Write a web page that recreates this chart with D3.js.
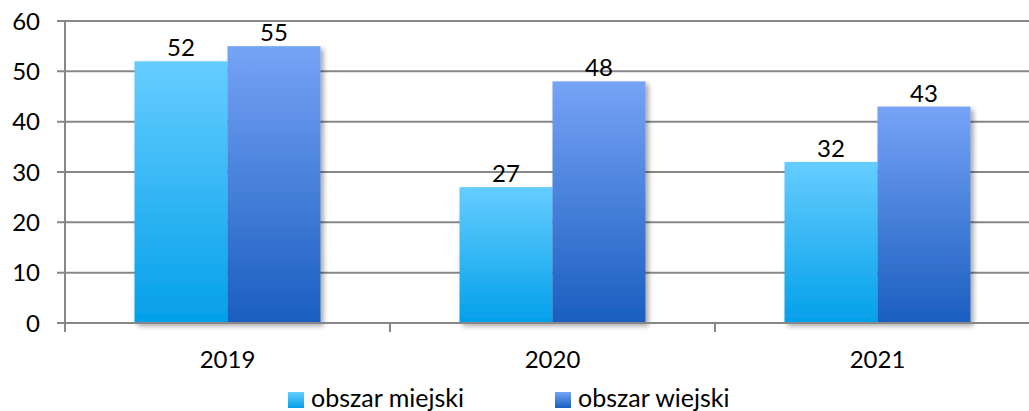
<!doctype html>
<html>
<head>
<meta charset="utf-8"/>
<title>obszar miejski / wiejski</title>
<script src="https://d3js.org/d3.v7.min.js"></script>
<style>
body{margin:0;background:#fff;}
text{font-family:Lato,"Open Sans",sans-serif;fill:#000;}
</style>
</head>
<body>
<script>
// dane
var lata = ["2019", "2020", "2021"];
var serie = ["obszar miejski", "obszar wiejski"];
var miejski = [52, 27, 32];
var wiejski = [55, 48, 43];
var ticksY = [0, 10, 20, 30, 40, 50, 60];

var W = 1029, H = 411;
var svg = d3.select("body").append("svg")
  .attr("width", W).attr("height", H);

var defs = svg.append("defs");
var g1 = defs.append("linearGradient").attr("id", "gm").attr("x1", 0).attr("y1", 0).attr("x2", 0).attr("y2", 1);
g1.append("stop").attr("offset", "0%").attr("stop-color", "#66cdff");
g1.append("stop").attr("offset", "100%").attr("stop-color", "#03a0ea");
var g2 = defs.append("linearGradient").attr("id", "gw").attr("x1", 0).attr("y1", 0).attr("x2", 0).attr("y2", 1);
g2.append("stop").attr("offset", "0%").attr("stop-color", "#76a3f6");
g2.append("stop").attr("offset", "100%").attr("stop-color", "#1a5ebf");
var f = defs.append("filter").attr("id", "cien").attr("x", "-10%").attr("y", "-10%").attr("width", "130%").attr("height", "130%");
f.append("feDropShadow").attr("dx", 3).attr("dy", 3).attr("stdDeviation", 2.5)
  .attr("flood-color", "#000").attr("flood-opacity", 0.35);

var kolory = ["url(#gm)", "url(#gw)"];

var x0 = d3.scaleBand().domain(lata).range([65, 1040]).padding(0);
var x1 = d3.scaleBand().domain(serie).range([0, 186]);
var y = d3.scaleLinear().domain([0, 60]).range([323, 21]);

// siatka
svg.append("g").selectAll("line").data(ticksY).enter().append("line")
  .attr("x1", 57).attr("x2", 1040)
  .attr("y1", function(d){return y(d)}).attr("y2", function(d){return y(d)})
  .attr("stroke", "#878787").attr("stroke-width", 2);

svg.append("g").selectAll("text").data(ticksY).enter().append("text")
  .attr("x", 40).attr("y", function(d){return y(d)}).attr("dy", "0.36em")
  .attr("text-anchor", "end").style("font-size", "24px")
  .text(function(d){return d});

// slupki
var dane = [];
lata.forEach(function(r, i){
  dane.push({rok: r, s: 0, v: miejski[i]});
  dane.push({rok: r, s: 1, v: wiejski[i]});
});
var off = (x0.bandwidth() - 186) / 2;

svg.append("g").attr("filter", "url(#cien)").selectAll("rect").data(dane).enter().append("rect")
  .attr("x", function(d){return x0(d.rok) + off + x1(serie[d.s])})
  .attr("y", function(d){return y(d.v)})
  .attr("width", x1.bandwidth())
  .attr("height", function(d){return y(0) - y(d.v)})
  .attr("fill", function(d){return kolory[d.s]});

svg.append("g").selectAll("text").data(dane).enter().append("text")
  .attr("x", function(d){return x0(d.rok) + off + x1(serie[d.s]) + x1.bandwidth() / 2})
  .attr("y", function(d){return y(d.v) - 5})
  .attr("text-anchor", "middle").style("font-size", "24px")
  .text(function(d){return d.v});

// osie
svg.append("line").attr("x1", 65).attr("x2", 65).attr("y1", 21).attr("y2", 332)
  .attr("stroke", "#878787").attr("stroke-width", 2);
svg.append("line").attr("x1", 57).attr("x2", 1040).attr("y1", y(0)).attr("y2", y(0))
  .attr("stroke", "#878787").attr("stroke-width", 2);
var granice = lata.map(function(r){return x0(r)}).concat([x0.range()[1]]);
svg.append("g").selectAll("line").data(granice).enter().append("line")
  .attr("x1", function(d){return d}).attr("x2", function(d){return d})
  .attr("y1", y(0)).attr("y2", 332)
  .attr("stroke", "#878787").attr("stroke-width", 2);

svg.append("g").selectAll("text").data(lata).enter().append("text")
  .attr("x", function(d){return x0(d) + x0.bandwidth() / 2})
  .attr("y", 368).attr("text-anchor", "middle").style("font-size", "24px")
  .text(function(d){return d});

// legenda
var legX = [288, 555];
var leg = svg.append("g").selectAll("g").data(serie).enter().append("g")
  .attr("transform", function(d, i){return "translate(" + legX[i] + ",392)"});
leg.append("rect").attr("width", 16).attr("height", 16)
  .attr("fill", function(d, i){return kolory[i]});
leg.append("text").attr("x", 23).attr("y", 15).style("font-size", "25px")
  .text(function(d){return d});
</script>
</body>
</html>
